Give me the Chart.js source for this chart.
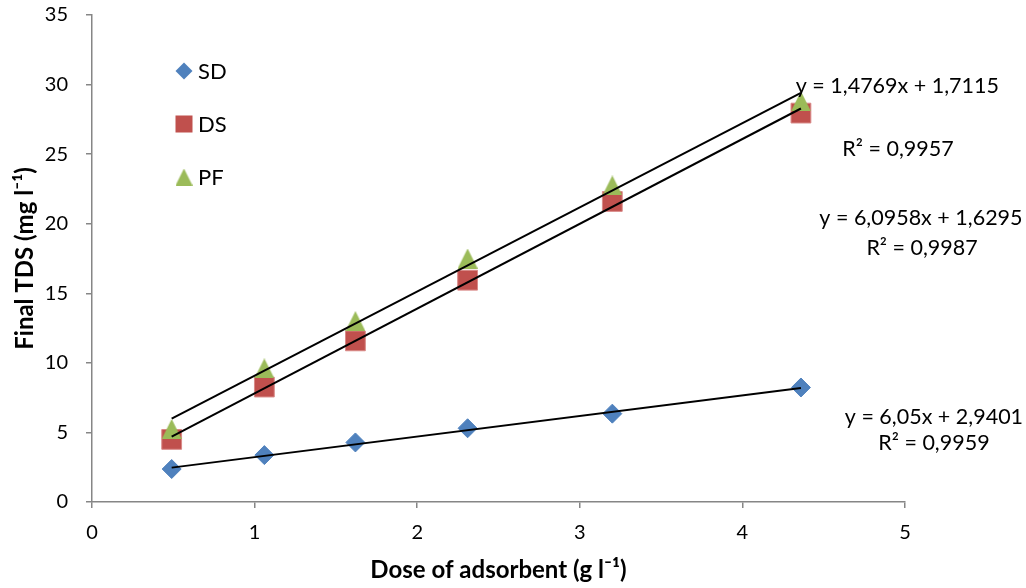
<!DOCTYPE html>
<html>
<head>
<meta charset="utf-8">
<script src="https://cdn.jsdelivr.net/npm/chart.js@4.4.0/dist/chart.umd.min.js"></script>
<style>
  html, body { margin: 0; padding: 0; background: #fff; }
  #wrap { width: 1026px; height: 588px; }
</style>
</head>
<body>
<div id="wrap"><canvas id="chart"></canvas></div>
<script>
// measured values
const doses = [0.49, 1.06, 1.62, 2.31, 3.2, 4.36];
const sdValues = [2.37, 3.37, 4.28, 5.3, 6.35, 8.23];
const dsValues = [4.5, 8.26, 11.58, 15.94, 21.6, 27.95];
const pfValues = [5.25, 9.6, 13.0, 17.5, 22.75, 28.8];

// trendlines at both ends
const trendX = [0.49, 4.36];
const sdTrend = [2.47, 8.2];
const dsTrend = [4.7, 28.28];
const pfTrend = [6.0, 29.4];

const seriesNames = ["SD", "DS", "PF"];
const eqLabels = ["y = 1,4769x + 1,7115", "R² = 0,9957", "y = 6,0958x + 1,6295", "R² = 0,9987", "y = 6,05x + 2,9401", "R² = 0,9959"];
const eqX = [4.953, 4.957, 5.098, 5.105, 5.178, 5.178];
const eqY = [29.86, 25.38, 20.42, 18.26, 6.13, 4.24];

const FONT = "Lato, 'Open Sans', sans-serif";
const BLUE = "#4f81bd", RED = "#c0504d", GREEN = "#9bbb59";

function triangleMarker(size, color) {
  const c = document.createElement("canvas");
  c.width = size; c.height = size;
  const g = c.getContext("2d");
  g.fillStyle = color;
  g.beginPath();
  g.moveTo(size / 2, 0);
  g.lineTo(size, size);
  g.lineTo(0, size);
  g.closePath();
  g.fill();
  return c;
}

const pts = vals => doses.map((d, i) => ({ x: d, y: vals[i] }));
const trend = vals => trendX.map((d, i) => ({ x: d, y: vals[i] }));

function trendSet(vals) {
  return {
    data: trend(vals), showLine: true, borderColor: "#000", borderWidth: 2,
    pointRadius: 0, order: 0
  };
}

const insideLegend = {
  id: "insideLegend",
  afterDatasetsDraw(chart) {
    const { ctx, chartArea } = chart;
    const mx = chartArea.left + 92, tx = chartArea.left + 106;
    const ys = [chartArea.top + 56, chartArea.top + 109, chartArea.top + 162];
    ctx.save();
    // SD diamond
    ctx.fillStyle = BLUE;
    ctx.beginPath();
    ctx.moveTo(mx, ys[0] - 8.5); ctx.lineTo(mx + 8.5, ys[0]);
    ctx.lineTo(mx, ys[0] + 8.5); ctx.lineTo(mx - 8.5, ys[0]);
    ctx.closePath(); ctx.fill();
    // DS square
    ctx.fillStyle = RED;
    ctx.fillRect(mx - 8.5, ys[1] - 8.5, 17, 17);
    // PF triangle
    ctx.drawImage(triangleMarker(17, GREEN), mx - 8.5, ys[2] - 8.5);
    ctx.fillStyle = "#000";
    ctx.font = "22px " + FONT;
    ctx.textBaseline = "middle";
    ctx.textAlign = "left";
    seriesNames.forEach((n, i) => ctx.fillText(n, tx, ys[i] + 1));

    // trendline equations
    const xs = chart.scales.x, yy = chart.scales.y;
    ctx.font = "21.5px " + FONT;
    ctx.textAlign = "center";
    eqLabels.forEach((t, i) => {
      ctx.fillText(t, xs.getPixelForValue(eqX[i]), yy.getPixelForValue(eqY[i]));
    });
    ctx.restore();
  }
};

new Chart(document.getElementById("chart"), {
  type: "scatter",
  data: {
    datasets: [
      trendSet(sdTrend), trendSet(dsTrend), trendSet(pfTrend),
      { label: "SD", data: pts(sdValues), pointStyle: "rectRot", pointRadius: 9.5,
        backgroundColor: BLUE, borderColor: BLUE, borderWidth: 1, order: 3 },
      { label: "DS", data: pts(dsValues), pointStyle: "rect", pointRadius: 14,
        backgroundColor: RED, borderColor: "#d98a88", borderWidth: 1, order: 2 },
      { label: "PF", data: pts(pfValues), pointStyle: triangleMarker(20, GREEN), order: 1 }
    ]
  },
  options: {
    responsive: true,
    maintainAspectRatio: false,
    animation: false,
    layout: { autoPadding: false, padding: { top: 15, right: 121, left: 0, bottom: 0 } },
    plugins: { legend: { display: false }, tooltip: { enabled: false } },
    scales: {
      x: {
        type: "linear", min: 0, max: 5,
        ticks: { stepSize: 1, color: "#000", padding: 13, font: { family: FONT, size: 20 } },
        grid: { drawOnChartArea: false, tickLength: 6, color: "#868686", lineWidth: 1.5 },
        border: { color: "#868686", width: 1.5 },
        title: { display: true, text: "Dose of adsorbent (g l⁻¹)", color: "#000",
                 font: { family: FONT, size: 24, weight: "bold" }, padding: { top: 0, bottom: 3 } },
        afterFit(s) { s.height = 86; }
      },
      y: {
        type: "linear", min: 0, max: 35,
        ticks: { stepSize: 5, color: "#000", padding: 18, font: { family: FONT, size: 20 } },
        grid: { drawOnChartArea: false, tickLength: 6, color: "#868686", lineWidth: 1.5 },
        border: { color: "#868686", width: 1.5 },
        title: { display: true, text: "Final TDS (mg l⁻¹)", color: "#000",
                 font: { family: FONT, size: 24, weight: "bold" }, padding: { top: 11, bottom: 0 } },
        afterFit(s) {
          s.width = 92;
          // the label padding otherwise pushes the plot top down
          s.paddingTop = 0;
          s.paddingBottom = 0;
        }
      }
    }
  },
  plugins: [insideLegend]
});
</script>
</body>
</html>
